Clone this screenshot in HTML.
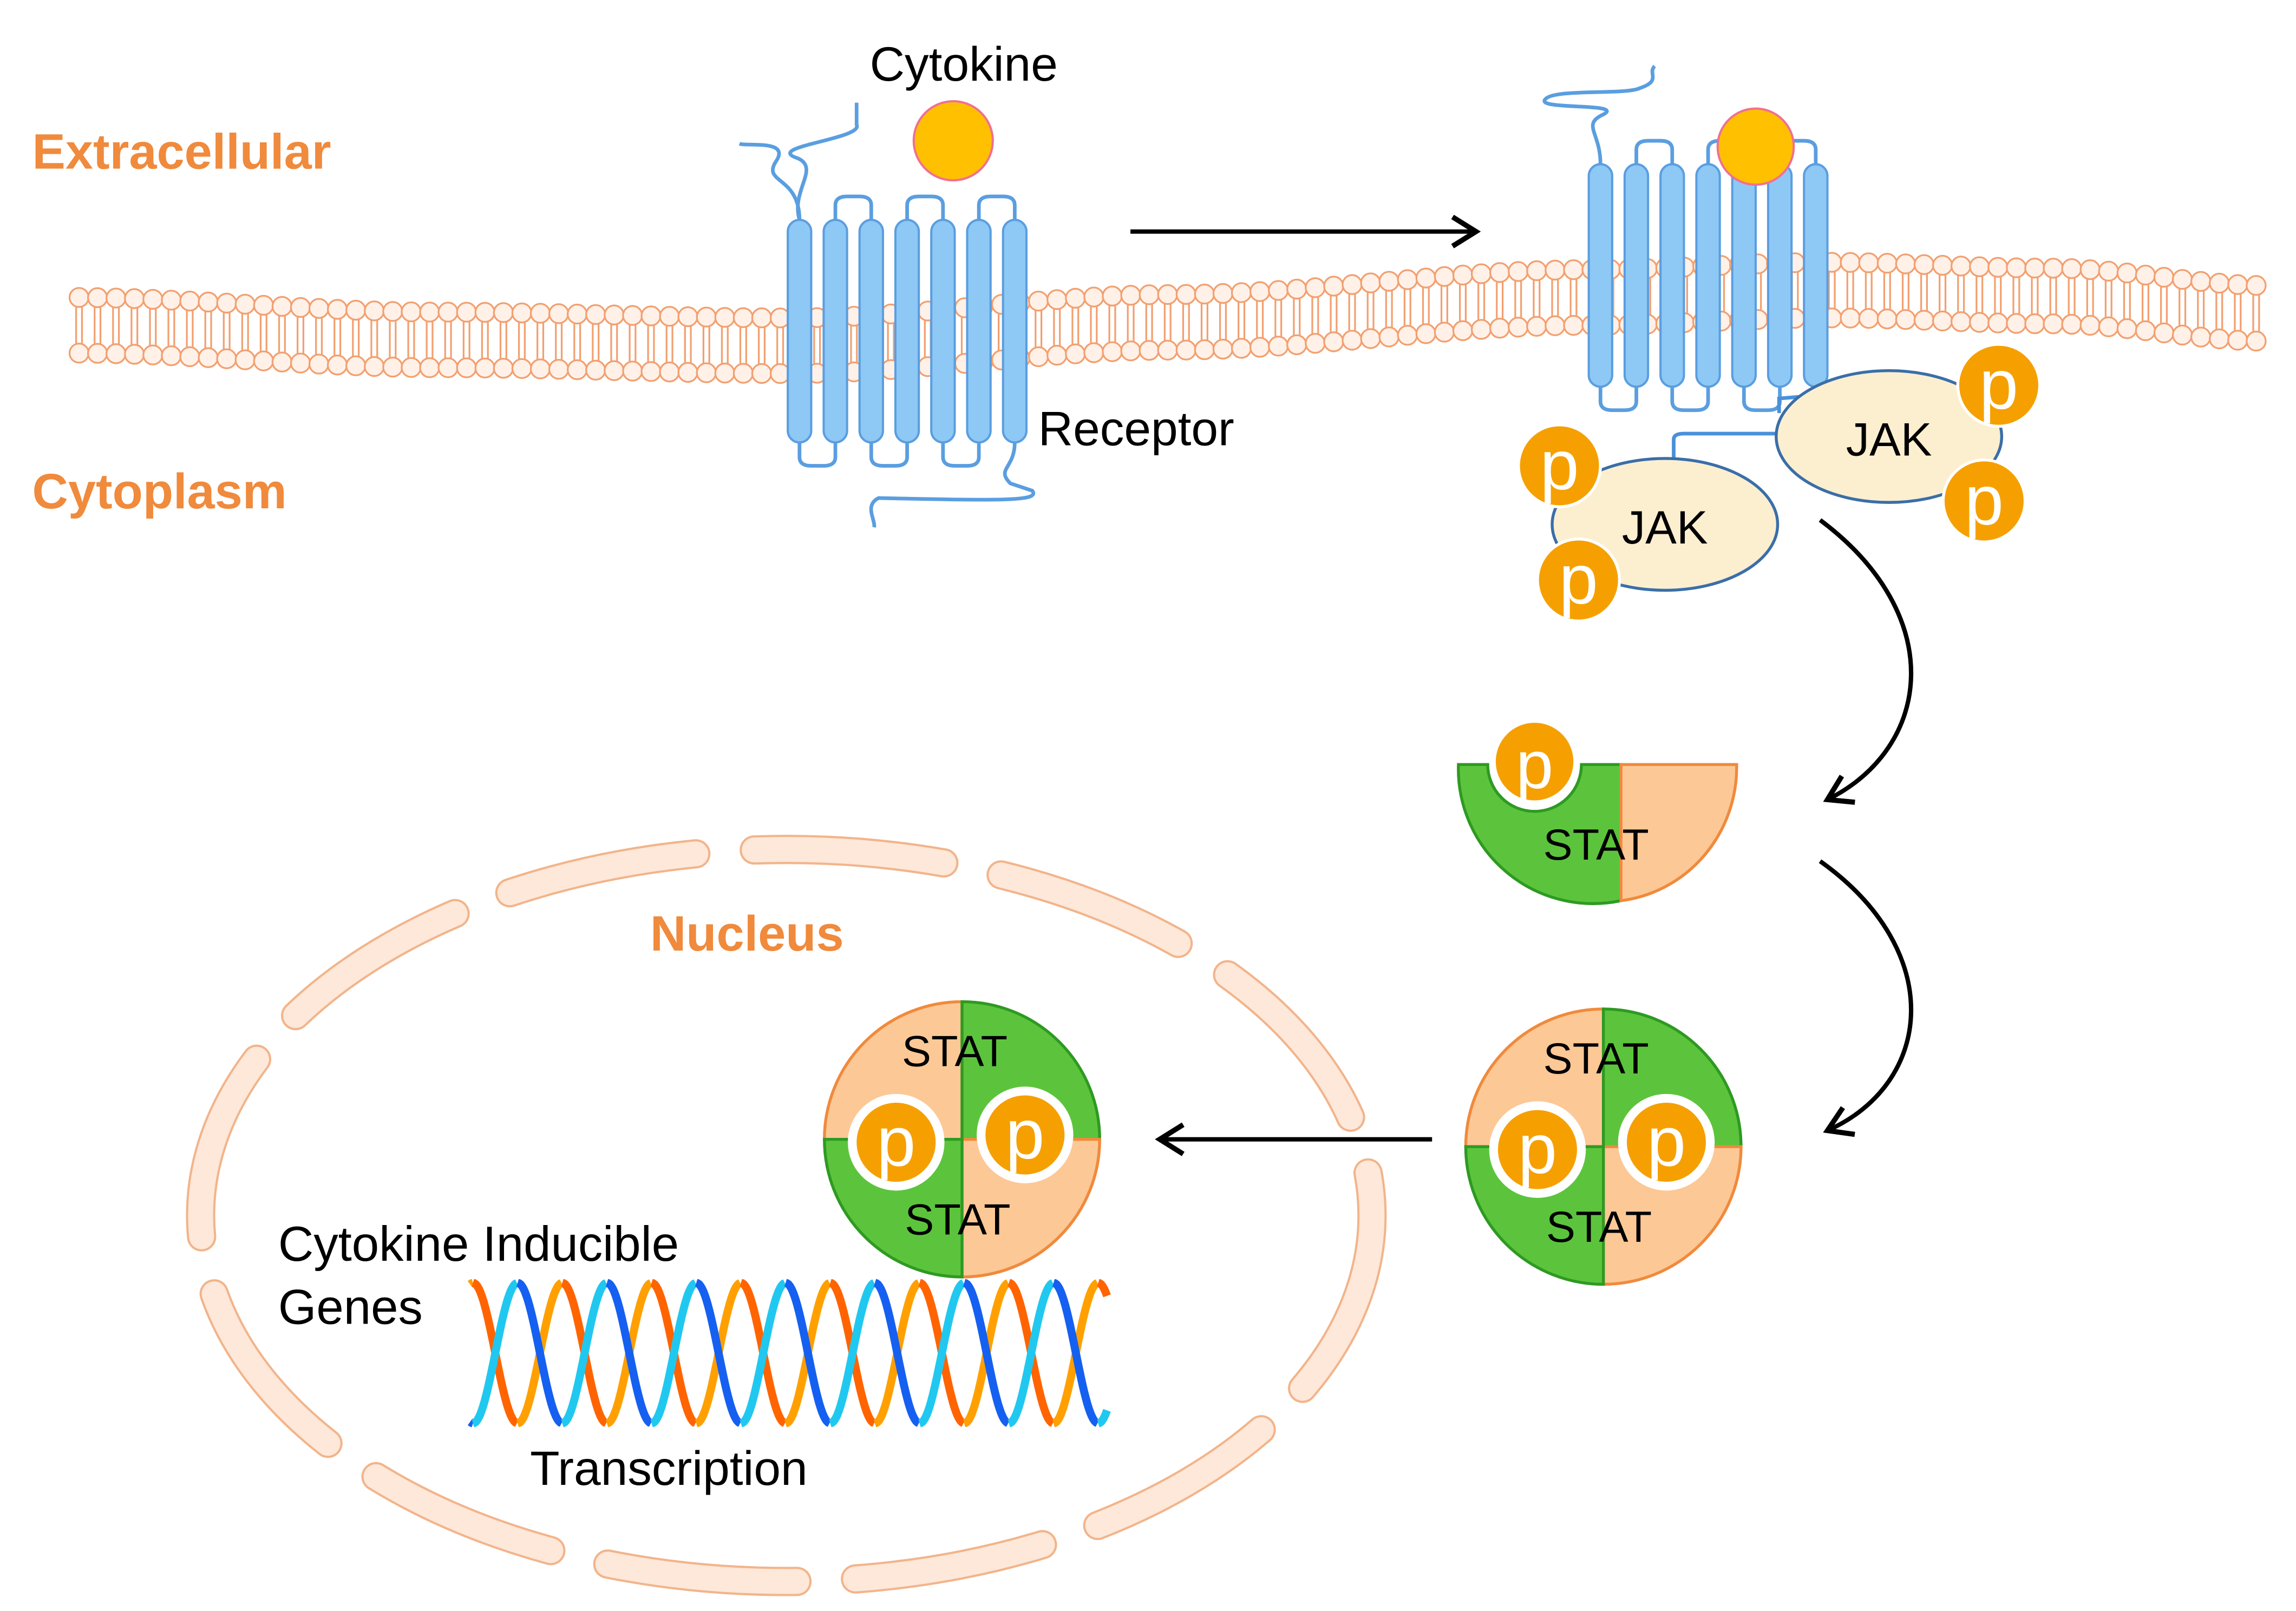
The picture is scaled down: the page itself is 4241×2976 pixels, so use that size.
<!DOCTYPE html>
<html><head><meta charset="utf-8"><style>html,body{margin:0;padding:0;background:#fff}svg{display:block}</style></head>
<body>
<svg id="s" xmlns="http://www.w3.org/2000/svg" width="4241" height="2976" viewBox="0 0 1568 1100" font-family="Liberation Sans, sans-serif">
<defs>
<marker id="ah2" viewBox="0 0 24 24" markerWidth="24" markerHeight="24" refX="20" refY="12" orient="auto" markerUnits="userSpaceOnUse"><path d="M4,2 L20,12 L4,22" fill="none" stroke="#000" stroke-width="3.5"/></marker>
</defs>
<rect width="1568" height="1100" fill="#fff"/>
<g id="mem"></g>
<g id="rec"></g>
<text x="22" y="115" font-size="34" font-weight="bold" fill="#f08a3c">Extracellular</text>
<text x="22" y="347" font-size="34" font-weight="bold" fill="#f08a3c">Cytoplasm</text>
<text x="594" y="55" font-size="33">Cytokine</text>
<text x="709" y="304" font-size="33">Receptor</text>
<circle cx="651" cy="96" r="27" fill="#ffc000" stroke="#f07090" stroke-width="1.5"/>
<circle cx="1199" cy="100" r="26" fill="#ffc000" stroke="#f07090" stroke-width="1.5"/>
<line x1="772" y1="158" x2="1008" y2="158" stroke="#000" stroke-width="3" marker-end="url(#ah2)"/>
<path d="M1143,315 L1143,300 Q1143,296 1150,296 L1215,296" fill="none" stroke="#4a90d9" stroke-width="2.5"/>
<path d="M1215,282 L1215,272 L1240,270" fill="none" stroke="#4a90d9" stroke-width="2.5"/>
<ellipse cx="1137" cy="358" rx="77" ry="45" fill="#fcefd0" stroke="#3a6ea8" stroke-width="2"/>
<ellipse cx="1290" cy="298" rx="77" ry="45" fill="#fcefd0" stroke="#3a6ea8" stroke-width="2"/>
<text x="1137" y="371" font-size="32" text-anchor="middle">JAK</text>
<text x="1290" y="311" font-size="32" text-anchor="middle">JAK</text>
<g id="ps"></g>
<path d="M1243,355 C1330,420 1320,510 1248,546" fill="none" stroke="#000" stroke-width="3" marker-end="url(#ah2)"/>
<path d="M1243,588 C1330,650 1320,740 1248,772" fill="none" stroke="#000" stroke-width="3" marker-end="url(#ah2)"/>
<line x1="978" y1="778" x2="792" y2="778" stroke="#000" stroke-width="3" marker-end="url(#ah2)"/>
<path d="M996,522 L1016,522 A32,32 0 0 0 1080,522 L1107,522 L1107,615 A92,92 0 0 1 996,522 Z" fill="#5cc43c" stroke="#2e9a22" stroke-width="2"/>
<path d="M1107,522 L1186,522 A90,92 0 0 1 1107,615 Z" fill="#fcc896" stroke="#f08a3c" stroke-width="2"/>
<circle cx="1048" cy="520" r="28" fill="#f5a000" stroke="#fff" stroke-width="3"/>
<text x="1048" y="538" font-size="46" fill="#fff" text-anchor="middle">p</text>
<text x="1090" y="587" font-size="30" text-anchor="middle">STAT</text>
<g id="dimers"></g>
<ellipse cx="537" cy="830" rx="400" ry="250" fill="none" stroke="#f2b48a" stroke-width="20" stroke-linecap="round" stroke-dasharray="130 40"/>
<ellipse cx="537" cy="830" rx="400" ry="250" fill="none" stroke="#fde8da" stroke-width="17" stroke-linecap="round" stroke-dasharray="130 40"/>
<text x="444" y="649" font-size="34" font-weight="bold" fill="#f08a3c">Nucleus</text>
<text x="190" y="861" font-size="33.5">Cytokine Inducible</text>
<text x="190" y="904" font-size="33.5">Genes</text>
<text x="362" y="1014" font-size="33">Transcription</text>
<g id="dna"></g>
</svg>
<script>
var NS="http://www.w3.org/2000/svg";
function el(t,a,p){var e=document.createElementNS(NS,t);for(var k in a)e.setAttribute(k,a[k]);(p||document.getElementById('s')).appendChild(e);return e;}
var pts=[[48,222],[300,232],[540,236],[800,220],[1085,203],[1250,198],[1400,202],[1552,214]];
function cy(x){for(var i=0;i<pts.length-1;i++){if(x<=pts[i+1][0]){var t=(x-pts[i][0])/(pts[i+1][0]-pts[i][0]);t=t*t*(3-2*t);return pts[i][1]+(pts[i+1][1]-pts[i][1])*t;}}return pts[pts.length-1][1];}
var mem=document.getElementById('mem');
for(var x=54;x<=1548;x+=12.6){var c=cy(x);
 el('line',{x1:x-2,y1:c-13,x2:x-2,y2:c+13,stroke:'#f2a070','stroke-width':1.2},mem);
 el('line',{x1:x+2,y1:c-13,x2:x+2,y2:c+13,stroke:'#f2a070','stroke-width':1.2},mem);
 el('circle',{cx:x,cy:c-19,r:6.5,fill:'#fff1e8',stroke:'#f2a070','stroke-width':1.2},mem);
 el('circle',{cx:x,cy:c+19,r:6.5,fill:'#fff1e8',stroke:'#f2a070','stroke-width':1.2},mem);}
var rec=document.getElementById('rec');
function receptor(x0,top,bot,sp){
 for(var i=0;i<7;i++){var x=x0+i*sp;
  el('rect',{x:x-8,y:top,width:16,height:bot-top,rx:8,fill:'#8ec8f4',stroke:'#5a9ee0','stroke-width':1.5},rec);}
 for(var i=0;i<6;i++){var x=x0+i*sp;
  if(i%2==0){el('path',{d:'M'+x+','+(bot)+' L'+x+','+(bot+10)+' Q'+x+','+(bot+16)+' '+(x+8)+','+(bot+16)+' L'+(x+sp-8)+','+(bot+16)+' Q'+(x+sp)+','+(bot+16)+' '+(x+sp)+','+(bot+10)+' L'+(x+sp)+','+bot,fill:'none',stroke:'#5a9ee0','stroke-width':2.5},rec);}
  else{el('path',{d:'M'+x+','+(top)+' L'+x+','+(top-10)+' Q'+x+','+(top-16)+' '+(x+8)+','+(top-16)+' L'+(x+sp-8)+','+(top-16)+' Q'+(x+sp)+','+(top-16)+' '+(x+sp)+','+(top-10)+' L'+(x+sp)+','+top,fill:'none',stroke:'#5a9ee0','stroke-width':2.5},rec);}
 }
}
receptor(546,150,302,24.5);
receptor(1093,112,264,24.5);
el('path',{d:'M546,150 C546,120 520,125 530,110 C540,95 510,100 505,98 M546,150 C540,130 560,115 545,108 C520,100 590,95 585,85 L585,70',fill:'none',stroke:'#5a9ee0','stroke-width':2.5},rec);
el('path',{d:'M693,302 C693,320 680,320 690,330 L705,335 C710,342 690,342 600,340 C590,345 598,355 597,360',fill:'none',stroke:'#5a9ee0','stroke-width':2.5},rec);
el('path',{d:'M1093,112 C1093,90 1080,85 1095,78 C1110,70 1050,75 1055,68 C1060,60 1110,65 1120,60 C1135,55 1125,50 1130,45',fill:'none',stroke:'#5a9ee0','stroke-width':2.5},rec);
var ps=document.getElementById('ps');
function pc(x,y,g){el('circle',{cx:x,cy:y,r:28,fill:'#f5a000',stroke:'#fff',"stroke-width":2},g||ps);var t=el('text',{x:x,y:y+16,'font-size':48,fill:'#fff','text-anchor':'middle'},g||ps);t.textContent='p';}
pc(1065,318);pc(1078,396);pc(1365,263);pc(1355,342);
var dm=document.getElementById('dimers');
function dimer(cx,cyy,r){
 var G='#5cc43c',P='#fcc896';
 function q(a1,a2,f,s){var x1=cx+r*Math.cos(a1),y1=cyy+r*Math.sin(a1),x2=cx+r*Math.cos(a2),y2=cyy+r*Math.sin(a2);
  el('path',{d:'M'+cx+','+cyy+' L'+x1+','+y1+' A'+r+','+r+' 0 0 1 '+x2+','+y2+' Z',fill:f,stroke:s,'stroke-width':2},dm);}
 q(Math.PI,1.5*Math.PI,P,'#f08a3c');q(1.5*Math.PI,2*Math.PI,G,'#2e9a22');
 q(0,0.5*Math.PI,P,'#f08a3c');q(0.5*Math.PI,Math.PI,G,'#2e9a22');
 el('circle',{cx:cx-45,cy:cyy+2,r:33,fill:'#fff'},dm);el('circle',{cx:cx+43,cy:cyy-3,r:33,fill:'#fff'},dm);
 pc(cx-45,cyy+2,dm);pc(cx+43,cyy-3,dm);
 var t=el('text',{x:cx-5,y:cyy-50,'font-size':30,'text-anchor':'middle'},dm);t.textContent='STAT';
 t=el('text',{x:cx-3,y:cyy+65,'font-size':30,'text-anchor':'middle'},dm);t.textContent='STAT';
}
dimer(1095,783,94);dimer(657,778,94);
var dna=document.getElementById('dna');
var P=61,A=48,C=924;
function strand(crest,up,down){
 // y = C - A*cos(2pi(x-crest)/P); descending from crest to crest+P/2, ascending otherwise
 var start=crest-Math.ceil((crest-321)/P)*P-P;
 for(var k=0;;k++){
  var a=start+k*P/2,b=a+P/2; if(a>756)break;
  var desc=(k%2==0);
  var x0=Math.max(a,321),x1=Math.min(b,756); if(x1<=x0)continue;
  var d='';for(var x=x0;x<=x1+0.01;x+=1){var xx=Math.min(x,x1);var y=C-A*Math.cos(2*Math.PI*(xx-crest)/P);d+=(d?'L':'M')+xx.toFixed(1)+','+y.toFixed(1);}
  el('path',{d:d,fill:'none',stroke:desc?down:up,'stroke-width':5.5,'stroke-linecap':'butt'},dna);
 }
}
strand(384,'#ffa000','#ff6400');
strand(353.5,'#20c8f0','#1560f0');
</script>
</body></html>
